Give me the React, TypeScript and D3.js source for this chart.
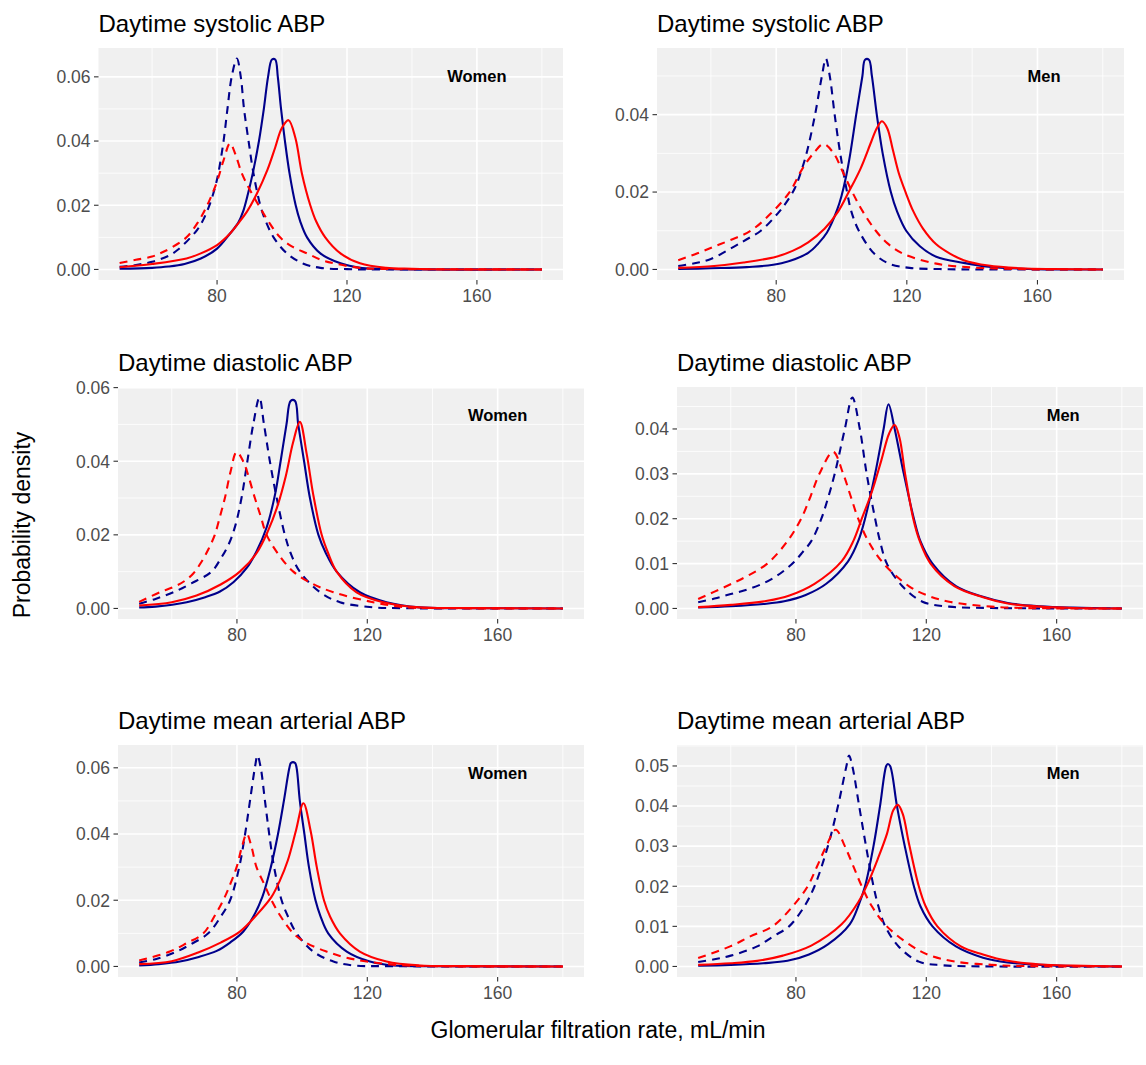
import React from 'react';
import * as d3 from 'd3';

type Pt = [number, number];

// ---- Daytime systolic ABP, women ----
const sysWomenBlueDashed: Pt[] = [[50, .0008], [55, .0014], [60, .0024], [65, .0042], [68, .0062], [71.7, .0098], [74, .0125], [76, .016], [78, .021], [79.5, .026], [80.4, .030], [82, .040], [83.2, .050], [84.5, .060], [86.1, .0657], [87.3, .060], [88.3, .050], [89.7, .040], [91.2, .030], [93.3, .020], [95, .015], [97.4, .010], [101.5, .005], [106.6, .0018], [111.8, .0005], [120, .0001], [130, 0], [180, 0]];
const sysWomenBlueSolid: Pt[] = [[50, .0002], [60, .0005], [65, .0009], [70, .0017], [75, .0034], [80, .0065], [84, .0112], [86.5, .0145], [88, .018], [89.5, .0235], [91, .030], [92.9, .040], [94.4, .050], [95.7, .060], [96.9, .0654], [97.9, .0654], [98.7, .060], [99.7, .050], [100.9, .040], [102.3, .030], [104.2, .020], [105.6, .015], [107.7, .010], [111.8, .005], [118, .0019], [124, .0005], [130, .0002], [140, 0], [180, 0]];
const sysWomenRedDashed: Pt[] = [[50, .0020], [55, .0030], [60, .0040], [62.4, .005], [66, .0068], [70.6, .010], [74, .0145], [76.5, .019], [78.5, .0235], [80.2, .028], [82, .034], [84, .0393], [85.6, .036], [87.6, .030], [90, .025], [92.8, .020], [95.8, .015], [99.4, .010], [103, .0072], [107.7, .005], [112, .003], [116, .0019], [124, .0005], [130, .0002], [140, .0001], [180, 0]];
const sysWomenRedSolid: Pt[] = [[50, .0007], [60, .0017], [70.6, .0034], [75, .005], [80, .0076], [84, .0112], [87, .015], [89.2, .0180], [92.2, .0235], [95.5, .031], [97.9, .038], [99.9, .044], [102, .0465], [104.1, .041], [106.1, .030], [108.7, .020], [110.5, .015], [113.3, .010], [118, .005], [124, .0019], [132, .0005], [140, .0002], [150, 0], [180, 0]];

// ---- Daytime systolic ABP, men ----
const sysMenBlueDashed: Pt[] = [[50, .0009], [55, .0016], [60, .0027], [67.1, .0059], [71, .0078], [75.3, .010], [80.5, .0145], [83, .0172], [85.7, .021], [87.5, .025], [89.3, .030], [91.9, .040], [94, .050], [95.2, .0545], [96.4, .050], [97.9, .040], [99.6, .030], [101.7, .020], [103, .015], [105.3, .010], [110, .0041], [114.6, .0015], [120.8, .0004], [130, .0001], [140, 0], [180, 0]];
const sysMenBlueSolid: Pt[] = [[50, .0001], [60, .0003], [71, .0006], [81.6, .0016], [89.8, .0043], [93, .0068], [95.5, .0095], [97, .012], [98.7, .0155], [100, .019], [101.4, .024], [102.7, .030], [104.5, .040], [106.4, .050], [107.2, .0542], [108.4, .0542], [109.3, .050], [110.8, .040], [112.6, .030], [115.1, .020], [117, .015], [119.8, .010], [124, .0060], [129, .0033], [137.4, .0017], [145, .0007], [155, .0002], [165, 0], [180, 0]];
const sysMenRedDashed: Pt[] = [[50, .0024], [55.7, .0041], [60.9, .0059], [66, .0076], [72.2, .010], [78.4, .0145], [84.1, .020], [88, .026], [91.4, .030], [94.5, .0324], [97.6, .030], [100.5, .025], [103.3, .020], [106.5, .015], [110.5, .010], [114, .0068], [118.8, .0041], [129, .0015], [140, .0005], [150, .0002], [160, 0], [180, 0]];
const sysMenRedSolid: Pt[] = [[50, .0004], [61, .0009], [70, .0018], [80, .0033], [85, .0048], [89.8, .0070], [94.8, .0105], [99, .015], [102.2, .020], [105.8, .026], [109.1, .033], [110.8, .0365], [112.4, .0383], [114, .0365], [115.7, .031], [117.5, .025], [119.6, .020], [122, .015], [125, .0105], [129, .0065], [133.2, .0041], [137.4, .0024], [145, .0010], [155, .0003], [165, .0001], [180, 0]];

// ---- Daytime diastolic ABP, women ----
const diaWomenBlueDashed: Pt[] = [[50, .0013], [55, .0026], [60.5, .0044], [66, .0068], [72.2, .010], [75, .0135], [77.5, .0175], [79.5, .0225], [81.4, .030], [83.2, .040], [85, .050], [86.9, .0573], [88.3, .050], [90.1, .040], [92.2, .030], [94.7, .020], [96.5, .015], [99.3, .010], [105.5, .0044], [111.6, .0017], [121.8, .0003], [130, .0001], [140, 0], [180, 0]];
const diaWomenBlueSolid: Pt[] = [[50, .0003], [55, .0005], [64.6, .0017], [70, .0030], [74.8, .0046], [79, .0072], [83, .0110], [86, .0155], [89.1, .022], [91.7, .031], [93.4, .040], [95.2, .050], [96.5, .0564], [97.8, .0564], [98.8, .050], [100.6, .040], [102.4, .030], [105, .020], [107.3, .015], [110.6, .010], [117.7, .0044], [125.9, .0017], [136, .0003], [150, .0001], [180, 0]];
const diaWomenRedDashed: Pt[] = [[50, .0018], [56.4, .0044], [61, .0060], [64, .0075], [66.6, .0095], [69, .0125], [71.2, .016], [73.2, .020], [74.8, .025], [76.3, .030], [78, .037], [79.9, .0425], [81.9, .040], [85.5, .030], [87.3, .025], [89.1, .020], [92.5, .015], [97.3, .010], [103, .0068], [109.6, .0044], [121.8, .0017], [132, .0003], [140, .0001], [180, 0]];
const diaWomenRedSolid: Pt[] = [[50, .0008], [60, .0017], [67.6, .0035], [75, .0065], [80.9, .010], [86, .015], [89.5, .021], [92.5, .028], [95, .036], [97.2, .045], [99.3, .0507], [101.4, .042], [103.4, .031], [106, .020], [108, .015], [110.6, .010], [116.7, .0044], [124.9, .0017], [136, .0003], [150, .0001], [180, 0]];

// ---- Daytime diastolic ABP, men ----
const diaMenBlueDashed: Pt[] = [[50, .0014], [55, .0022], [60, .0032], [65, .0042], [70, .0056], [74, .0072], [77, .0088], [79.5, .0104], [82, .0125], [84.7, .015], [87.8, .020], [90, .025], [91.9, .030], [95, .040], [97.3, .047], [99.6, .040], [101.7, .030], [104.3, .020], [105.8, .015], [107.9, .010], [112.6, .005], [118.8, .0015], [127, .0004], [140, .0001], [180, 0]];
const diaMenBlueSolid: Pt[] = [[50, .0002], [60, .0005], [70, .0010], [76.4, .0016], [83, .0030], [89.3, .0055], [96, .0105], [99.1, .015], [101.2, .020], [104.3, .030], [106.9, .040], [108.4, .0455], [110.3, .040], [113.1, .030], [116.2, .020], [118.2, .015], [121.9, .010], [129.1, .005], [137.4, .0026], [145, .0012], [155, .0005], [165, .0002], [180, 0]];
const diaMenRedDashed: Pt[] = [[50, .0021], [58.8, .005], [65, .0072], [71.2, .010], [77.4, .015], [81.6, .020], [84.5, .025], [87.2, .030], [91.4, .0349], [94.5, .030], [96.8, .025], [99.1, .020], [102.2, .015], [106.9, .010], [114.6, .005], [120, .0030], [127, .0015], [140, .0004], [150, .0001], [180, 0]];
const diaMenRedSolid: Pt[] = [[50, .0003], [60, .0008], [71.2, .0017], [78, .0029], [85.7, .0055], [94, .0105], [97.6, .015], [100.2, .020], [103.3, .026], [106.2, .033], [108.6, .039], [110.3, .0409], [111.8, .038], [113.5, .030], [116, .020], [118, .015], [121.3, .010], [128.6, .005], [137.4, .0025], [145, .0011], [155, .0004], [165, .0001], [180, 0]];

// ---- Daytime mean arterial ABP, women ----
const mapWomenBlueDashed: Pt[] = [[50, .0012], [55, .0022], [61.5, .0045], [66, .0068], [71.2, .010], [75, .015], [77.9, .020], [80.7, .030], [82.5, .040], [84, .050], [85.5, .060], [86.3, .0637], [87.3, .060], [88.6, .050], [89.9, .040], [91.4, .030], [93.7, .020], [95.7, .015], [98.3, .010], [103.4, .0045], [109.6, .0015], [115.7, .0003], [125, .0001], [180, 0]];
const mapWomenBlueSolid: Pt[] = [[50, .0003], [56, .0007], [62.5, .0015], [68, .0028], [73.8, .0047], [78, .0073], [81.9, .0105], [85, .015], [87.8, .021], [90.4, .030], [92.6, .040], [94.4, .050], [96.1, .060], [96.6, .0615], [97.8, .0615], [98.3, .060], [99.3, .050], [100.7, .040], [102.1, .030], [104.1, .020], [105.7, .015], [108, .010], [113.7, .0045], [120.8, .0015], [128, .0003], [140, .0001], [180, 0]];
const mapWomenRedDashed: Pt[] = [[50, .0018], [59.4, .0045], [64.5, .0070], [69.7, .010], [73, .015], [75.8, .020], [78, .025], [79.9, .030], [81.5, .036], [83, .0401], [84.5, .036], [86, .030], [88.3, .025], [90.6, .020], [93.5, .015], [97.3, .010], [101.5, .007], [107.5, .0045], [113, .0028], [119.8, .0015], [130, .0004], [140, .0001], [180, 0]];
const mapWomenRedSolid: Pt[] = [[50, .0007], [60, .0016], [68.1, .0042], [75, .0072], [80.9, .0105], [86, .0155], [90.6, .021], [93.2, .026], [95.6, .032], [98.1, .041], [100.4, .0493], [102.6, .041], [104.5, .030], [106.7, .020], [108.6, .015], [111.6, .010], [117.7, .0045], [125.9, .0015], [136, .0003], [150, .0001], [180, 0]];

// ---- Daytime mean arterial ABP, men ----
const mapMenBlueDashed: Pt[] = [[50, .0011], [55, .0018], [60, .0027], [68.1, .005], [73, .0075], [77.9, .010], [82.6, .015], [85.7, .020], [89.8, .030], [92.9, .040], [95.5, .050], [96.3, .0526], [97.3, .050], [99.4, .040], [101.5, .030], [103.8, .020], [105.3, .015], [107.4, .010], [111.5, .005], [117.7, .0012], [125, .0003], [140, 0], [180, 0]];
const mapMenBlueSolid: Pt[] = [[50, .0002], [60, .0004], [70, .0008], [77.4, .0014], [84, .0030], [89.8, .0055], [96.5, .0105], [99.1, .015], [101.2, .020], [103.8, .030], [105.8, .040], [107.7, .050], [108.2, .0505], [108.9, .050], [111, .040], [113.4, .030], [116.2, .020], [118.2, .015], [121.9, .010], [129.1, .005], [137.4, .0022], [145, .0010], [155, .0004], [165, .0001], [180, 0]];
const mapMenRedDashed: Pt[] = [[50, .0021], [59.8, .005], [66, .0075], [72.8, .010], [79, .015], [83.6, .020], [86.5, .025], [89.3, .030], [92.2, .0341], [95, .030], [97.6, .025], [100.2, .020], [103.3, .015], [107.9, .010], [115.7, .005], [121, .0028], [129, .0012], [140, .0004], [150, .0001], [180, 0]];
const mapMenRedSolid: Pt[] = [[50, .0004], [60, .0008], [68.1, .0014], [76, .0027], [84.7, .0052], [94, .0105], [99.1, .016], [102.2, .021], [105.2, .027], [107.9, .033], [109.9, .039], [111.3, .0403], [112.8, .038], [114.6, .031], [117.7, .020], [119.8, .015], [123.4, .010], [130.6, .005], [137.4, .003], [145, .0014], [155, .0005], [165, .0002], [180, 0]];

// ---- axis ticks ----
const xTicks = [80, 120, 160];
const yTicksSysWomen = [0, 0.02, 0.04, 0.06];
const yTicksSysMen = [0, 0.02, 0.04];
const yTicksDiaWomen = [0, 0.02, 0.04, 0.06];
const yTicksDiaMen = [0, 0.01, 0.02, 0.03, 0.04];
const yTicksMapWomen = [0, 0.02, 0.04, 0.06];
const yTicksMapMen = [0, 0.01, 0.02, 0.03, 0.04, 0.05];

const BLUE = '#00008B';
const RED = '#FF0000';
const FONT = '"Liberation Sans", Arial, Helvetica, sans-serif';
const PANEL_H = 232;

// panel layout (plot area in px) + content
const panels = [
  { title: 'Daytime systolic ABP', label: 'Women', labelX: 160, left: 98.5, top: 48, width: 464.5, yTicks: yTicksSysWomen,
    curves: [sysWomenBlueDashed, sysWomenBlueSolid, sysWomenRedDashed, sysWomenRedSolid] },
  { title: 'Daytime systolic ABP', label: 'Men', labelX: 162, left: 657, top: 48, width: 467, yTicks: yTicksSysMen,
    curves: [sysMenBlueDashed, sysMenBlueSolid, sysMenRedDashed, sysMenRedSolid] },
  { title: 'Daytime diastolic ABP', label: 'Women', labelX: 160, left: 118, top: 387, width: 466, yTicks: yTicksDiaWomen,
    curves: [diaWomenBlueDashed, diaWomenBlueSolid, diaWomenRedDashed, diaWomenRedSolid] },
  { title: 'Daytime diastolic ABP', label: 'Men', labelX: 162, left: 677, top: 387, width: 466, yTicks: yTicksDiaMen,
    curves: [diaMenBlueDashed, diaMenBlueSolid, diaMenRedDashed, diaMenRedSolid] },
  { title: 'Daytime mean arterial ABP', label: 'Women', labelX: 160, left: 118, top: 745, width: 466, yTicks: yTicksMapWomen,
    curves: [mapWomenBlueDashed, mapWomenBlueSolid, mapWomenRedDashed, mapWomenRedSolid] },
  { title: 'Daytime mean arterial ABP', label: 'Men', labelX: 162, left: 677, top: 745, width: 466, yTicks: yTicksMapMen,
    curves: [mapMenBlueDashed, mapMenBlueSolid, mapMenRedDashed, mapMenRedSolid] },
];

// colour / dash for the 4 curves in each panel
const curveStyles = [
  { color: BLUE, dash: '8,6' },
  { color: BLUE, dash: null },
  { color: RED, dash: '8,6' },
  { color: RED, dash: null },
];

// minor breaks halfway between the majors, like ggplot
const minorsOf = (ticks: number[], lo: number, hi: number) => {
  const step = ticks[1] - ticks[0];
  const out: number[] = [];
  for (let i = -1; i < ticks.length; i++) {
    const v = (i < 0 ? ticks[0] - step : ticks[i]) + step / 2;
    if (v >= lo && v <= hi) out.push(v);
  }
  return out;
};

const Panel = ({ p }: { p: typeof panels[number] }) => {
  const all = p.curves.flat();
  const [x0, x1] = d3.extent(all, d => d[0]) as [number, number];
  const yMax = d3.max(all, d => d[1]) as number;
  const xPad = (x1 - x0) * 0.05;

  const x = d3.scaleLinear().domain([x0 - xPad, x1 + xPad]).range([p.left, p.left + p.width]);
  const y = d3.scaleLinear().domain([-0.05 * yMax, 1.05 * yMax]).range([p.top + PANEL_H, p.top]);

  const line = d3.line<Pt>()
    .x(d => x(d[0]))
    .y(d => Math.min(y(d[1]), y(0)))
    .curve(d3.curveCatmullRom.alpha(0.5));

  const [xd0, xd1] = x.domain();
  const [yd0, yd1] = y.domain();
  const xMinor = minorsOf(xTicks, xd0, xd1);
  const yMinor = minorsOf(p.yTicks, yd0, yd1);
  const right = p.left + p.width;
  const bottom = p.top + PANEL_H;
  const fmt = d3.format('.2f');

  return (
    <g>
      <text x={p.left} y={p.top - 16} fontSize={24} fontFamily={FONT} fill="#000">{p.title}</text>
      <rect x={p.left} y={p.top} width={p.width} height={PANEL_H} fill="#F0F0F0" />
      {xMinor.map(v => (
        <line key={'xm' + v} x1={x(v)} x2={x(v)} y1={p.top} y2={bottom} stroke="#fff" strokeWidth={0.8} />
      ))}
      {yMinor.map(v => (
        <line key={'ym' + v} x1={p.left} x2={right} y1={y(v)} y2={y(v)} stroke="#fff" strokeWidth={0.8} />
      ))}
      {xTicks.map(v => (
        <line key={'xg' + v} x1={x(v)} x2={x(v)} y1={p.top} y2={bottom} stroke="#fff" strokeWidth={1.6} />
      ))}
      {p.yTicks.map(v => (
        <line key={'yg' + v} x1={p.left} x2={right} y1={y(v)} y2={y(v)} stroke="#fff" strokeWidth={1.6} />
      ))}
      {p.curves.map((c, i) => (
        <path key={i} d={line(c) || ''} fill="none" stroke={curveStyles[i].color}
          strokeWidth={2.1} strokeDasharray={curveStyles[i].dash || undefined} />
      ))}
      <text x={x(p.labelX)} y={y(yMax * 0.915)} dy="0.35em" textAnchor="middle" fontSize={16.5}
        fontWeight="bold" fontFamily={FONT} fill="#000">{p.label}</text>
      {p.yTicks.map(v => (
        <g key={'yt' + v}>
          <line x1={p.left - 4.5} x2={p.left} y1={y(v)} y2={y(v)} stroke="#333" strokeWidth={1.1} />
          <text x={p.left - 8} y={y(v)} dy="0.36em" textAnchor="end" fontSize={17.5} fontFamily={FONT} fill="#4D4D4D">{fmt(v)}</text>
        </g>
      ))}
      {xTicks.map(v => (
        <g key={'xt' + v}>
          <line x1={x(v)} x2={x(v)} y1={bottom} y2={bottom + 4.5} stroke="#333" strokeWidth={1.1} />
          <text x={x(v)} y={bottom + 21.7} textAnchor="middle" fontSize={17.5} fontFamily={FONT} fill="#4D4D4D">{v}</text>
        </g>
      ))}
    </g>
  );
};

const App = () => (
  <div style={{ position: 'absolute', left: 0, top: 0 }}>
    <svg width={1146} height={1065} style={{ display: 'block', background: '#fff' }}>
      {panels.map((p, i) => <Panel key={i} p={p} />)}
      <text transform="translate(30,525) rotate(-90)" textAnchor="middle" fontSize={23} fontFamily={FONT} fill="#000">
        Probability density
      </text>
      <text x={598} y={1038} textAnchor="middle" fontSize={23} fontFamily={FONT} fill="#000">
        Glomerular filtration rate, mL/min
      </text>
    </svg>
  </div>
);

export default App;
